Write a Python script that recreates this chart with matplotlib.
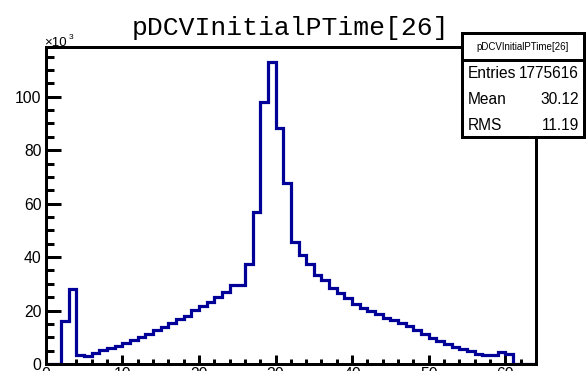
import matplotlib
matplotlib.use("Agg")
import matplotlib.pyplot as plt
from matplotlib.patches import Rectangle
from matplotlib.lines import Line2D
import numpy as np

# ---- data (counts in units of 10^3), 1-unit bins from 0 to 64 ----
bin_edges = list(range(0, 65))
counts_k = [
    0.0, 0.0, 16.2, 28.2, 3.4, 3.1, 4.1, 5.1, 6.0, 6.9,
    7.9, 9.0, 10.2, 11.4, 12.6, 13.9, 15.3, 16.7, 18.1, 20.2,
    21.6, 23.2, 24.9, 26.9, 29.4, 29.4, 37.4, 57.0, 98.1, 113.0,
    88.1, 67.6, 45.8, 40.6, 37.5, 33.4, 31.3, 28.4, 26.6, 24.7,
    22.6, 21.0, 20.0, 18.8, 17.3, 16.4, 15.4, 14.1, 12.6, 11.4,
    9.8, 8.5, 7.3, 6.4, 5.7, 4.8, 3.9, 3.2, 3.2, 4.4,
    3.9, 0.0, 0.0, 0.0,
]
x_ticks = [0, 10, 20, 30, 40, 50, 60]
y_ticks = [0, 20, 40, 60, 80, 100]
title = "pDCVInitialPTime[26]"
stat_labels = ["Entries", "Mean", "RMS"]
stat_values = ["1775616", "30.12", "11.19"]

W, H = 587, 371
fig = plt.figure(figsize=(W / 100, H / 100), dpi=100)
fig.patch.set_facecolor("white")

ax_l, ax_r, ax_t, ax_b = 45.7, 536.0, 46.7, 364.0
ax = fig.add_axes([ax_l / W, (H - ax_b) / H, (ax_r - ax_l) / W, (ax_b - ax_t) / H])

ax.stairs(counts_k, bin_edges, color="#000099", linewidth=2.3, baseline=0,
          zorder=3)

ax.set_xlim(0, 64)
ax.set_ylim(0, 118.7)

lw = 2.16
for s in ax.spines.values():
    s.set_linewidth(lw)
    s.set_color("black")
    s.set_zorder(4)

ax.set_xticks(x_ticks)
ax.set_yticks(y_ticks)
ax.set_xticks(np.arange(0, 65, 2), minor=True)
ax.set_yticks(np.arange(0, 119, 5), minor=True)
ax.tick_params(axis="both", which="both", direction="in", width=lw,
               top=False, right=False, labelfontfamily="Liberation Sans",
               labelsize=11.3, colors="black")
ax.tick_params(axis="y", which="major", length=10.8, pad=3)
ax.tick_params(axis="y", which="minor", length=5.4)
ax.tick_params(axis="x", which="major", length=6.8, pad=2.5)
ax.tick_params(axis="x", which="minor", length=3.4)

# x10^3 multiplier
fig.text(44.5 / W, 1 - 45.5 / H, "×10", fontfamily="Liberation Sans",
         fontsize=9.5, ha="left", va="baseline")
fig.text(69 / W, 1 - 39 / H, "3", fontfamily="Liberation Sans",
         fontsize=6, ha="left", va="baseline")

# title
fig.text(290 / W, 1 - 35 / H, title, fontfamily="Liberation Mono",
         fontsize=19, ha="center", va="baseline")

# stats box
bx0, bx1, by0, by1 = 461.7, 584.0, 33.3, 137.3
box = Rectangle((bx0 / W, 1 - by1 / H), (bx1 - bx0) / W, (by1 - by0) / H,
                transform=fig.transFigure, facecolor="white",
                edgecolor="black", linewidth=lw, zorder=10)
fig.add_artist(box)
fig.add_artist(Line2D([bx0 / W, bx1 / W], [1 - 60 / H, 1 - 60 / H],
                      transform=fig.transFigure, color="black",
                      linewidth=lw, zorder=11))
fig.text((bx0 + bx1) / 2 / W, 1 - 47 / H, title, fontfamily="Liberation Sans",
         fontsize=7.0, ha="center", va="center", zorder=12)
rows_y = [73, 99.5, 125.5]
for lab, val, yy in zip(stat_labels, stat_values, rows_y):
    fig.text(467.5 / W, 1 - yy / H, lab, fontfamily="Liberation Sans",
             fontsize=11.2, ha="left", va="center", zorder=12)
    fig.text(579 / W, 1 - yy / H, val, fontfamily="Liberation Sans",
             fontsize=11.2, ha="right", va="center", zorder=12)

fig.savefig("out.png", dpi=100, facecolor="white")
